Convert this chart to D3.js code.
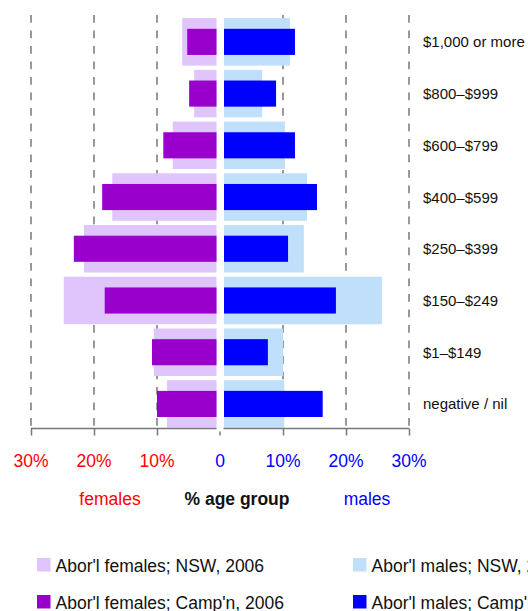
<!DOCTYPE html>
<html>
<head>
<meta charset="utf-8">
<script src="https://cdn.jsdelivr.net/npm/d3@7"></script>
<style>
body { margin:0; background:#fff; }
svg { display:block; font-family:"Liberation Sans", Arial, sans-serif; }
</style>
</head>
<body>
<div id="chart"></div>
<script>
// income brackets, top to bottom
const categories = ["$1,000 or more", "$800\u2013$999", "$600\u2013$799", "$400\u2013$599",
  "$250\u2013$399", "$150\u2013$249", "$1\u2013$149", "negative / nil"]

// % of age group
const femalesNSW  = [6.0, 4.1, 7.5, 17.1, 21.6, 24.8, 10.5, 8.4]
const femalesCamp = [5.2, 4.9, 9.0, 18.7, 23.2, 18.3, 10.8, 10.0]
const malesNSW    = [11.1, 6.7, 10.3, 13.8, 13.3, 25.7, 10.0, 10.2]
const malesCamp   = [11.9, 8.9, 11.9, 15.4, 10.8, 18.4, 7.6, 16.3]

const tickValues = [0, 10, 20, 30]
const legendLabels = ["Abor'l females; NSW, 2006", "Abor'l males; NSW, 2006",
  "Abor'l females; Camp'n, 2006", "Abor'l males; Camp'n, 2006"]

const col = {fNSW:"#e0c4fc", fCamp:"#9900cc", mNSW:"#bfdffb", mCamp:"#0000ff"}

const width = 528, height = 611
const zero = 220
const gapL = 3.5, gapR = 4

const svg = d3.select("#chart").append("svg")
    .attr("width", width)
    .attr("height", height)

const xF = d3.scaleLinear().domain([0, 30]).range([zero, 31])
const xM = d3.scaleLinear().domain([0, 30]).range([zero, 409])

const y = d3.scaleBand()
    .domain(categories)
    .range([16, 429.8])
    .paddingInner(0.082)
    .paddingOuter(0.041)

const bw = y.bandwidth()
const innerH = bw * 0.55

// dashed grid
const grid = svg.append("g")
grid.selectAll(".gf")
    .data([10, 20, 30])
    .enter().append("line")
    .attr("x1", d => xF(d)).attr("x2", d => xF(d))
    .attr("y1", 15).attr("y2", 428)
    .attr("stroke", "#555").attr("stroke-width", 1.2)
    .attr("stroke-dasharray", "7.7,7.8")
grid.selectAll(".gm")
    .data([10, 20, 30])
    .enter().append("line")
    .attr("x1", d => xM(d)).attr("x2", d => xM(d))
    .attr("y1", 15).attr("y2", 428)
    .attr("stroke", "#555").attr("stroke-width", 1.2)
    .attr("stroke-dasharray", "7.7,7.8")

const rows = categories.map((c, i) => ({
  cat: c, fN: femalesNSW[i], fC: femalesCamp[i], mN: malesNSW[i], mC: malesCamp[i]
}))

// wide NSW bars
svg.selectAll(".fN").data(rows).enter().append("rect")
    .attr("x", d => xF(d.fN))
    .attr("width", d => xF(0) - gapL - xF(d.fN))
    .attr("y", d => y(d.cat))
    .attr("height", bw)
    .style("fill", col.fNSW)
svg.selectAll(".mN").data(rows).enter().append("rect")
    .attr("x", xM(0) + gapR)
    .attr("width", d => xM(d.mN) - xM(0) - gapR)
    .attr("y", d => y(d.cat))
    .attr("height", bw)
    .style("fill", col.mNSW)

// narrow Campbelltown bars
svg.selectAll(".fC").data(rows).enter().append("rect")
    .attr("x", d => xF(d.fC))
    .attr("width", d => xF(0) - gapL - xF(d.fC))
    .attr("y", d => y(d.cat) + (bw - innerH) / 2)
    .attr("height", innerH)
    .style("fill", col.fCamp)
svg.selectAll(".mC").data(rows).enter().append("rect")
    .attr("x", xM(0) + gapR)
    .attr("width", d => xM(d.mC) - xM(0) - gapR)
    .attr("y", d => y(d.cat) + (bw - innerH) / 2)
    .attr("height", innerH)
    .style("fill", col.mCamp)

// category labels
svg.selectAll(".cat").data(categories).enter().append("text")
    .attr("x", 423)
    .attr("y", d => y(d) + bw / 2 + 5.5)
    .style("font-size", "15px")
    .style("fill", "#111")
    .text(d => d)

// axes
const axisY = 428.5
const fAxis = svg.append("g")
    .attr("transform", "translate(0," + axisY + ")")
    .call(d3.axisBottom(xF).tickValues([10, 20, 30]).tickSize(7).tickSizeOuter(0).tickFormat(""))
const mAxis = svg.append("g")
    .attr("transform", "translate(0," + axisY + ")")
    .call(d3.axisBottom(xM).tickValues([10, 20, 30]).tickSize(7).tickSizeOuter(0).tickFormat(""))
fAxis.select(".domain").attr("d", "M31,0H" + (zero - gapL))
mAxis.select(".domain").attr("d", "M" + (zero + gapR - 0.5) + ",0H409")
svg.selectAll(".domain, .tick line").attr("stroke", "#777").attr("stroke-width", 1.5)
svg.append("line")
    .attr("x1", zero).attr("x2", zero)
    .attr("y1", axisY + 3).attr("y2", axisY + 7)
    .attr("stroke", "#777").attr("stroke-width", 1.5)

// tick labels
svg.selectAll(".tlf").data(tickValues.filter(d => d > 0)).enter().append("text")
    .attr("x", d => xF(d)).attr("y", 467)
    .attr("text-anchor", "middle")
    .style("font-size", "17.5px").style("fill", "#ff0000")
    .text(d => d + "%")
svg.selectAll(".tlm").data(tickValues).enter().append("text")
    .attr("x", d => xM(d)).attr("y", 467)
    .attr("text-anchor", "middle")
    .style("font-size", "17.5px").style("fill", "#0000ff")
    .text(d => d === 0 ? "0" : d + "%")

// axis titles
svg.append("text").attr("x", 110).attr("y", 505).attr("text-anchor", "middle")
    .style("font-size", "17.5px").style("fill", "#ff0000").text("females")
svg.append("text").attr("x", 237).attr("y", 505).attr("text-anchor", "middle")
    .style("font-size", "17.5px").style("font-weight", "bold").style("fill", "#111").text("% age group")
svg.append("text").attr("x", 367).attr("y", 505).attr("text-anchor", "middle")
    .style("font-size", "17.5px").style("fill", "#0000ff").text("males")

// legend
const legendColors = [col.fNSW, col.mNSW, col.fCamp, col.mCamp]
const leg = svg.selectAll(".leg").data(legendLabels).enter().append("g")
    .attr("transform", (d, i) => "translate(" + (i % 2 ? 353 : 37) + "," + (i < 2 ? 558 : 595) + ")")
leg.append("rect").attr("width", 13.5).attr("height", 13.5)
    .style("fill", (d, i) => legendColors[i])
leg.append("text").attr("x", 18.5).attr("y", 13.5)
    .style("font-size", "17.5px").style("fill", "#111")
    .text(d => d)
</script>
</body>
</html>
